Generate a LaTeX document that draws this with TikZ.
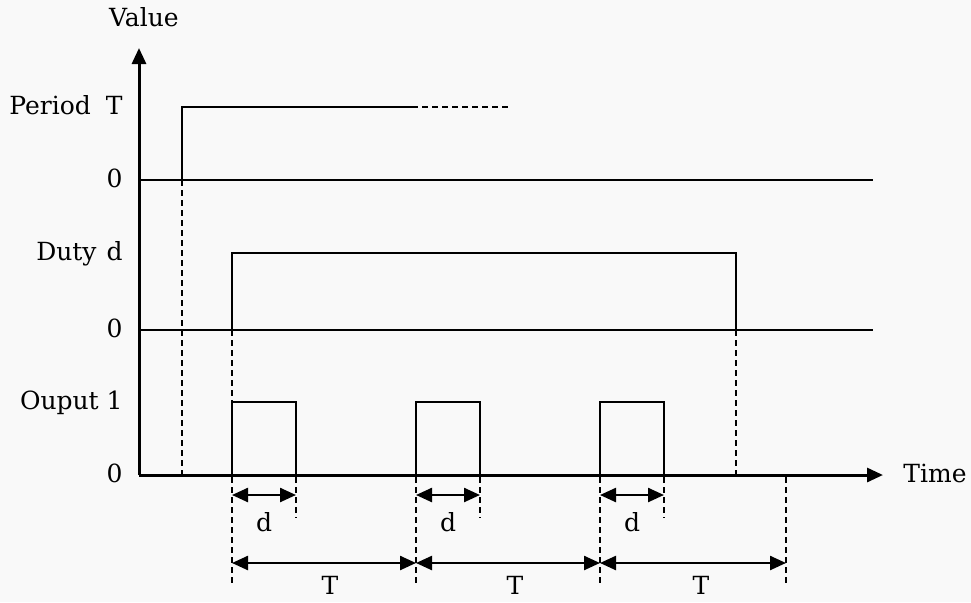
\documentclass[tikz,border=0pt]{standalone}
\usepackage{fontspec}
\setmainfont{DejaVu Serif}
\usetikzlibrary{arrows.meta,positioning}
\definecolor{paper}{RGB}{249,249,249}
\tikzset{>={Triangle[length=8pt,width=7pt]},
  axis/.style={line width=1.5pt},
  signal/.style={line width=1pt},
  guide/.style={line width=1pt,dash pattern=on 3pt off 2pt},
  dim/.style={<->,line width=1.2pt},
  lbl/.style={inner sep=0pt,text height=1.4ex,text depth=0pt,
    font=\fontsize{12.5pt}{14pt}\selectfont},
  ylbl/.style={lbl,anchor=east}}

\begin{document}
\begin{tikzpicture}[x=0.5pt,y=-0.5pt]
  \fill[paper] (0,0) rectangle (971,602);
  \useasboundingbox (0,0) rectangle (971,602);

  % axes
  \coordinate (o) at (139,475);
  \coordinate (ytop) at (139,48);
  \coordinate (xend) at (883,475);
  \draw[axis,->] (o) -- (ytop);
  \draw[axis,->] (o) -- (xend);
  \node[lbl] (value) at (144,19) {Value};
  \node[lbl,anchor=west] (time) at (903,475) {Time};

  % level labels
  \node[ylbl] (per) at (123,107) {Period\hspace{0.6em}T};
  \node[ylbl] (per0) at (123,180) {0};
  \node[ylbl] (duty) at (123,253) {Duty\hspace{0.4em}d};
  \node[ylbl] (duty0) at (123,330) {0};
  \node[ylbl] (out) at (123,402) {Ouput 1};
  \node[ylbl] (out0) at (123,475) {0};

  % zero lines
  \coordinate (pl) at (139,180);
  \coordinate (pr) at (873,180);
  \coordinate (dl) at (139,330);
  \coordinate (dr) at (873,330);
  \draw[signal] (pl) -- (pr);
  \draw[signal] (dl) -- (dr);

  % period and duty
  \draw[signal] (182,180) -- (182,107) -- (412,107);
  \draw[guide] (412,107) -- (508,107);
  \draw[signal] (232,330) -- (232,253) -- (736,253) -- (736,330);

  % output pulses
  \foreach \s in {232,416,600}
    \draw[signal] (\s,475) -- (\s,402) -- ({\s+64},402) -- ({\s+64},475);

  % guides
  \draw[guide] (182,180) -- (182,475);
  \draw[guide] (232,330) -- (232,402);
  \draw[guide] (736,330) -- (736,475);
  \foreach \s in {232,416,600} {
    \draw[guide] (\s,477) -- (\s,585);
    \draw[guide] ({\s+64},477) -- ({\s+64},518);
  }
  \draw[guide] (786,477) -- (786,585);

  % d marks
  \foreach \s [count=\i] in {232,416,600} {
    \coordinate (d\i a) at (\s,495);
    \coordinate (d\i b) at ({\s+64},495);
    \draw[dim] (d\i a) -- (d\i b);
    \node[lbl] (d\i) at ({\s+32},524) {d};
  }

  % T marks
  \coordinate (t1) at (232,563);
  \coordinate (t2) at (416,563);
  \coordinate (t3) at (600,563);
  \coordinate (t4) at (786,563);
  \draw[dim] (t1) -- (t2);
  \draw[dim] (t2) -- (t3);
  \draw[dim] (t3) -- (t4);
  \node[lbl] (T1) at (330,587) {T};
  \node[lbl] (T2) at (515,587) {T};
  \node[lbl] (T3) at (701,587) {T};
\end{tikzpicture}
\end{document}
